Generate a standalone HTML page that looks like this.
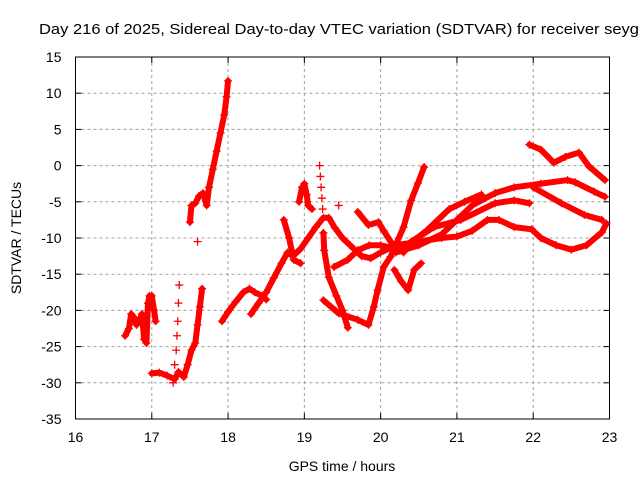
<!DOCTYPE html>
<html><head><meta charset="utf-8"><style>
html,body{margin:0;padding:0;background:#fff;}
svg{display:block;font-family:"Liberation Sans",sans-serif;}
</style></head><body>
<svg id="chart" width="640" height="480" viewBox="0 0 640 480">
<rect width="640" height="480" fill="#fff"/>
<text x="39" y="34" font-size="15" textLength="600" lengthAdjust="spacingAndGlyphs">Day 216 of 2025, Sidereal Day-to-day VTEC variation (SDTVAR) for receiver seyg</text>
<g id="grid"></g>
<g id="axes"></g>
<g id="marks"></g>
<text x="342" y="471" font-size="14" text-anchor="middle">GPS time / hours</text>
<text transform="translate(21,238) rotate(-90)" font-size="14" text-anchor="middle">SDTVAR / TECUs</text>
</svg>
<script>
const xTicks = [16,17,18,19,20,21,22,23];
const yTicks = [15,10,5,0,-5,-10,-15,-20,-25,-30,-35];
// tracks: [hours, TECU] pairs
const track1 = [[16.65,-23.5],[16.7,-22.5],[16.73,-20.5],[16.77,-21],[16.8,-22],[16.83,-21.5],[16.87,-20.5],[16.9,-24],[16.93,-24.5],[16.95,-19],[16.97,-18],[17.0,-18],[17.03,-20],[17.05,-21.5]];
const track2 = [[17.0,-28.7],[17.1,-28.6],[17.2,-29],[17.3,-29.5],[17.35,-28.5],[17.42,-29.2],[17.47,-27.5],[17.52,-25.5],[17.57,-24.5],[17.6,-22],[17.63,-19.5],[17.66,-17]];
const track3 = [[17.28,-30],[17.3,-27.5],[17.32,-25.5],[17.33,-23.5],[17.34,-21.5],[17.35,-19],[17.36,-16.5]];
const track4 = [[17.5,-7.8],[17.52,-5.5],[17.57,-5.2],[17.62,-4.2],[17.67,-3.8],[17.72,-5.5],[17.75,-3],[17.8,-0.5],[17.85,2],[17.9,4.5],[17.95,7],[17.98,9.5],[18.0,11.7]];
const track5 = [[17.92,-21.5],[18.0,-20.2],[18.1,-18.8],[18.2,-17.5],[18.28,-17],[18.35,-17.5],[18.45,-18],[18.5,-18.5]];
const track6 = [[18.3,-20.5],[18.4,-19],[18.5,-17.5],[18.6,-15.5],[18.7,-13.5],[18.78,-12],[18.85,-12.5],[18.95,-11.5],[19.05,-10],[19.15,-8.5],[19.25,-7.2],[19.32,-7.2],[19.4,-8.6],[19.5,-10],[19.6,-11],[19.75,-12.5],[19.87,-12.8],[20.0,-12],[20.2,-11],[20.5,-10.5],[20.8,-10],[21.0,-9.8],[21.2,-9],[21.4,-7.5],[21.55,-7.5],[21.75,-8.5],[21.98,-8.8],[22.1,-10],[22.3,-11],[22.5,-11.6],[22.7,-11],[22.9,-9.2],[22.96,-8]];
const track7 = [[18.73,-7.5],[18.8,-10],[18.86,-13],[18.95,-13.5]];
const track8 = [[19.25,-9.3],[19.26,-11.7],[19.32,-15.4],[19.42,-18],[19.5,-20],[19.57,-22.4]];
const track9 = [[19.25,-18.6],[19.45,-20.4],[19.7,-21.3],[19.84,-22],[19.91,-19.5],[19.96,-17.2],[20.04,-14],[20.13,-12.6],[20.3,-8.5],[20.4,-4.8],[20.49,-2.4],[20.57,-0.2]];
const track10 = [[19.39,-14],[19.57,-13],[19.7,-11.7],[19.85,-11],[20.0,-11],[20.2,-11.5]];
const track11 = [[19.7,-6.4],[19.84,-8.2],[19.97,-7.8],[20.04,-9],[20.18,-11.3],[20.3,-12]];
const track12 = [[20.18,-14.4],[20.27,-16],[20.36,-17.2],[20.44,-14.4],[20.53,-13.5]];
const track13 = [[20.3,-11.5],[20.6,-9],[20.9,-6],[21.1,-5],[21.32,-4]];
const track14 = [[20.2,-12],[20.5,-11],[20.8,-9.5],[21.0,-7.5],[21.2,-5.5],[21.5,-3.8],[21.75,-3],[22.1,-2.5],[22.45,-2],[22.55,-2.3],[22.8,-3.6],[22.94,-4.3]];
const track15 = [[22.0,-3],[22.37,-5.2],[22.67,-6.8],[22.9,-7.5]];
const track16 = [[20.4,-10.5],[20.7,-8.5],[21.05,-7.5],[21.5,-5.2],[21.75,-4.8],[21.95,-5.2]];
const track17 = [[21.95,2.9],[22.1,2.2],[22.27,0.4],[22.42,1.2],[22.6,1.8],[22.73,-0.1],[22.94,-2]];
const track18 = [[18.93,-5],[18.97,-3],[19.0,-2.5],[19.03,-4],[19.05,-5.5],[19.1,-6]];
const sparse1 = [[19.2,0],[19.21,-1.5],[19.22,-3],[19.23,-4.5],[19.24,-6],[17.6,-10.5],[19.45,-5.5]];

const X0=75.5, X1=609.5, Y0=57, Y1=419;
const xs = h => X0 + (h-16)/(23-16)*(X1-X0);
const ys = v => Y0 + (15-v)/(15-(-35))*(Y1-Y0);
const NS='http://www.w3.org/2000/svg';
const grid=document.getElementById('grid'), axes=document.getElementById('axes'), marks=document.getElementById('marks');
function mk(tag, attrs, parent){const e=document.createElementNS(NS,tag);for(const k in attrs)e.setAttribute(k,attrs[k]);parent.appendChild(e);return e;}

xTicks.forEach(t=>{
  const x=xs(t);
  if(t>16&&t<23){const g=mk('line',{x1:x,x2:x,y1:Y0,y2:Y1,stroke:'#a0a0a0','stroke-dasharray':'3,3'},grid);
  
  }
  mk('line',{x1:x,x2:x,y1:Y1,y2:Y1-6,stroke:'#000'},axes);
  mk('line',{x1:x,x2:x,y1:Y0,y2:Y0+6,stroke:'#000'},axes);
  const l=mk('text',{x:x,y:Y1+23,'font-size':14,'text-anchor':'middle'},axes);
  l.textContent=t;
  
  
});
yTicks.forEach(t=>{
  const y=ys(t);
  if(t<15&&t>-35){const g=mk('line',{x1:X0,x2:X1,y1:y,y2:y,stroke:'#a0a0a0','stroke-dasharray':'3,3'},grid);
  
  }
  mk('line',{x1:X0,x2:X0+6,y1:y,y2:y,stroke:'#000'},axes);
  mk('line',{x1:X1,x2:X1-6,y1:y,y2:y,stroke:'#000'},axes);
  const l=mk('text',{x:X0-14,y:y+5,'font-size':14,'text-anchor':'end'},axes);
  l.textContent=t;
  
  
});
const frame=mk('rect',{x:X0,y:Y0,width:X1-X0,height:Y1-Y0,fill:'none',stroke:'#000'},axes);



function plus(x,y,parent){
  mk('path',{d:`M${x-4},${y}h8M${x},${y-4}v8`,stroke:'#f00','stroke-width':1.3,fill:'none'},parent);
}
const dense=[track1,track2,track4,track5,track6,track7,track8,track9,track10,track11,track12,track13,track14,track15,track16,track17,track18];
dense.forEach((tr,i)=>{
  const g=mk('g',{},marks);
  
  
  mk('polyline',{points:tr.map(p=>xs(p[0])+','+ys(p[1])).join(' '),fill:'none',stroke:'#f00','stroke-width':6,'stroke-linejoin':'round','stroke-linecap':'round'},g);
  tr.forEach(p=>plus(xs(p[0]),ys(p[1]),g));
});
[track3,sparse1].forEach((tr,i)=>{
  const g=mk('g',{},marks);
  
  
  tr.forEach(p=>plus(xs(p[0]),ys(p[1]),g));
});
</script>
</body></html>
